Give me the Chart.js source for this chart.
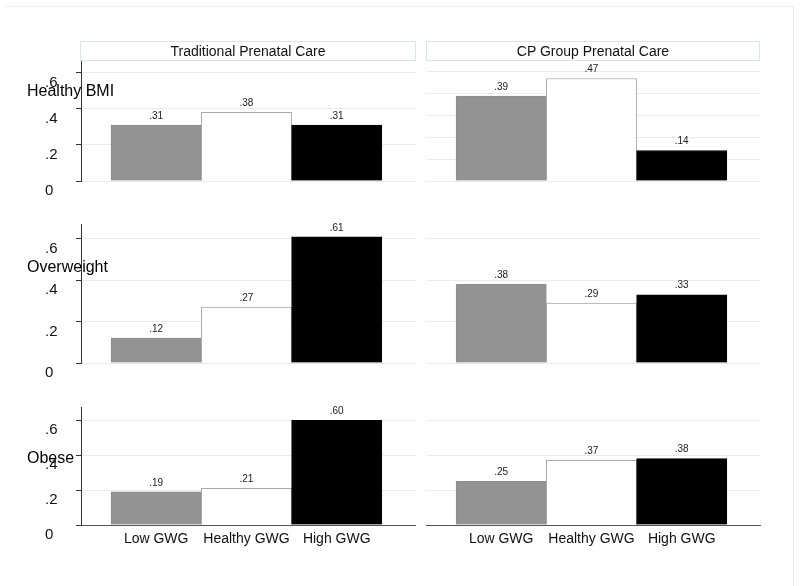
<!DOCTYPE html>
<html lang="en">
  <head>
    <meta charset="utf-8">
    <script src="https://cdn.jsdelivr.net/npm/chart.js"></script>
    <title>GWG by BMI group and prenatal care</title>
    <style>
      body { margin: 0; background: #fff; font-family: Arial, "Liberation Sans", sans-serif; }
      #wrap { position: relative; width: 800px; height: 586px; overflow: hidden; }
      #wrap canvas { position: absolute; }
      #frame { position: absolute; left: 5px; top: 6px; width: 788px; height: 600px; border-top: 1px solid #efefef; border-right: 1px solid #ececec; }
      .title { position: absolute; top: 41px; height: 20px; line-height: 18px; box-sizing: border-box; border: 1px solid #d9e5e9; text-align: center; font-size: 14px; color: #111; }
      .rowlab { position: absolute; left: 27px; font-size: 16px; line-height: 16px; color: #000; white-space: nowrap; }
    </style>
  </head>
  <body>
    <div id="wrap">
      <div id="frame"></div>
    </div>
  </body>
  <script>
    // data
    const categories = ['Low GWG', 'Healthy GWG', 'High GWG'];
    const panelTitles = ['Traditional Prenatal Care', 'CP Group Prenatal Care'];
    const rowLabels = ['Healthy BMI', 'Overweight', 'Obese'];

    const tradHealthy = [0.31, 0.38, 0.31];
    const tradOverweight = [0.12, 0.27, 0.61];
    const tradObese = [0.19, 0.21, 0.60];
    const groupHealthy = [0.39, 0.47, 0.14];
    const groupOverweight = [0.38, 0.29, 0.33];
    const groupObese = [0.25, 0.37, 0.38];

    const yTicks = [0, 0.2, 0.4, 0.6];
    const yTicksGroupHealthy = [0, 0.1, 0.2, 0.3, 0.4, 0.5]; // that panel got its own scale

    const barColors = ['#939393', '#ffffff', '#000000'];
    const barBorders = ['#8c8c8c', '#a9a9a9', '#000000'];
    const gridColor = '#e4eef0';
    const fontFamily = 'Arial, "Liberation Sans", sans-serif';

    // where each panel sits (canvas top/height, plot area starts 20px below top)
    const rows = [
      { top: 40, height: 161, bottomAxis: false },
      { top: 204, height: 179, bottomAxis: false },
      { top: 387, height: 168, bottomAxis: true }
    ];
    const cols = [
      { left: 0, width: 420, padLeft: 45, yWidth: 36, showY: true },
      { left: 420, width: 345, padLeft: 6, yWidth: 0, showY: false }
    ];

    const panels = [
      { row: 0, col: 0, values: tradHealthy, ticks: yTicks, max: 0.67 },
      { row: 0, col: 1, values: groupHealthy, ticks: yTicksGroupHealthy, max: 0.555 },
      { row: 1, col: 0, values: tradOverweight, ticks: yTicks, max: 0.672 },
      { row: 1, col: 1, values: groupOverweight, ticks: yTicks, max: 0.672 },
      { row: 2, col: 0, values: tradObese, ticks: yTicks, max: 0.676 },
      { row: 2, col: 1, values: groupObese, ticks: yTicks, max: 0.676 }
    ];

    const fmt = v => v.toFixed(2).replace(/^0/, '');
    const fmtTick = v => v === 0 ? '0' : String(+v.toFixed(2)).replace(/^0/, '');

    // small numbers above each bar
    const valueLabels = {
      id: 'valueLabels',
      afterDatasetsDraw(chart) {
        const ctx = chart.ctx;
        const ds = chart.data.datasets[0];
        ctx.save();
        ctx.font = '10px ' + fontFamily;
        ctx.fillStyle = '#222';
        ctx.textAlign = 'center';
        ctx.textBaseline = 'middle';
        chart.getDatasetMeta(0).data.forEach((bar, i) => {
          ctx.fillText(fmt(ds.data[i].y), bar.x, bar.y - 9);
        });
        ctx.restore();
      }
    };

    const wrap = document.getElementById('wrap');

    panels.forEach(p => {
      const r = rows[p.row], c = cols[p.col];
      const canvas = document.createElement('canvas');
      canvas.width = c.width;
      canvas.height = r.height;
      canvas.style.left = c.left + 'px';
      canvas.style.top = r.top + 'px';
      wrap.appendChild(canvas);

      new Chart(canvas, {
        type: 'bar',
        data: {
          datasets: [{
            data: p.values.map((v, i) => ({ x: i + 1, y: v })),
            backgroundColor: barColors,
            borderColor: barBorders,
            borderWidth: 1,
            barPercentage: 1,
            categoryPercentage: 1
          }]
        },
        options: {
          responsive: false,
          animation: false,
          layout: { padding: { left: c.padLeft, right: 5, top: 20, bottom: r.bottomAxis ? 0 : 20 } },
          plugins: { legend: { display: false }, tooltip: { enabled: false } },
          scales: {
            x: {
              type: 'linear',
              offset: false,
              min: 0.167,
              max: 3.867,
              display: r.bottomAxis,
              afterBuildTicks: s => { s.ticks = categories.map((_, i) => ({ value: i + 1 })); },
              afterFit: s => { if (r.bottomAxis) s.height = 30; },
              grid: { display: false, drawTicks: false, offset: false },
              border: { display: true, color: '#555', width: 1 },
              ticks: {
                padding: 6,
                color: '#111',
                font: { family: fontFamily, size: 14 },
                maxRotation: 0,
                autoSkip: false,
                callback: v => categories[v - 1]
              }
            },
            y: {
              min: 0,
              max: p.max,
              afterBuildTicks: s => { s.ticks = p.ticks.map(v => ({ value: v })); },
              afterFit: s => { s.width = c.yWidth; },
              grid: { color: gridColor, tickColor: '#333', tickLength: 5, drawTicks: c.showY },
              border: { display: c.showY, color: '#333', width: 1 },
              ticks: {
                display: c.showY,
                crossAlign: 'far',
                labelOffset: 10,
                color: '#111',
                font: { family: fontFamily, size: 15 },
                callback: v => fmtTick(v)
              }
            }
          }
        },
        plugins: [valueLabels]
      });
    });

    // panel headings and row labels as plain text on top
    const titleBoxes = [{ left: 80, width: 336 }, { left: 426, width: 334 }];
    panelTitles.forEach((t, i) => {
      const d = document.createElement('div');
      d.className = 'title';
      d.style.left = titleBoxes[i].left + 'px';
      d.style.width = titleBoxes[i].width + 'px';
      d.textContent = t;
      wrap.appendChild(d);
    });
    const rowLabelTops = [83, 259, 450];
    rowLabels.forEach((t, i) => {
      const d = document.createElement('div');
      d.className = 'rowlab';
      d.style.top = rowLabelTops[i] + 'px';
      d.textContent = t;
      wrap.appendChild(d);
    });
  </script>
</html>
